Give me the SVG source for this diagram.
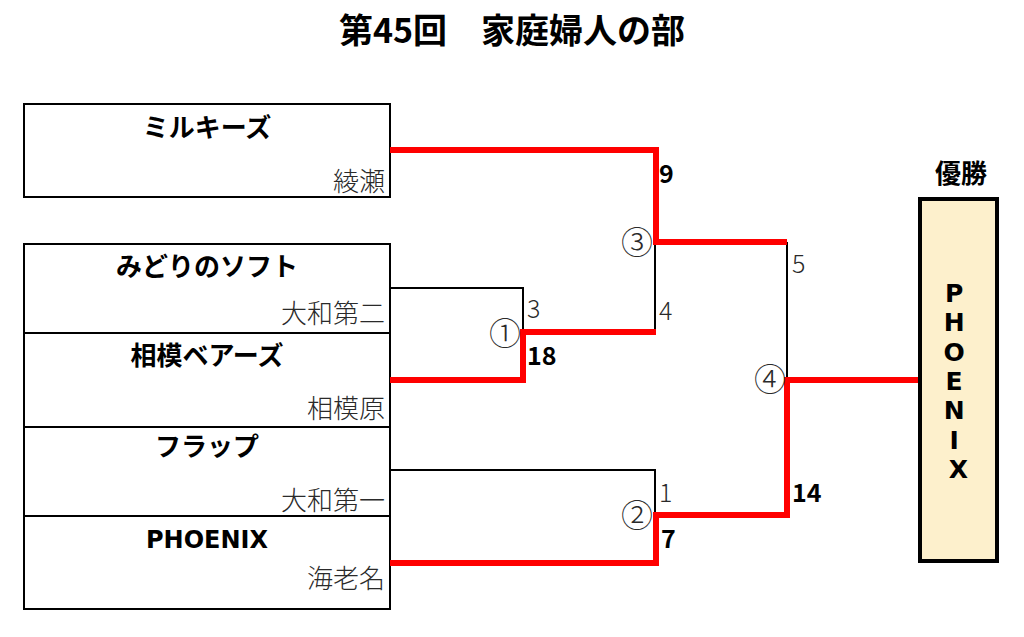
<svg xmlns="http://www.w3.org/2000/svg" width="1024" height="637" viewBox="0 0 1024 637">
<style>
  text { font-family: "Noto Sans CJK JP", "Noto Sans", sans-serif; }
  .title { font-size: 34px; font-weight: bold; fill: #000; text-anchor: middle; }
  .box { fill: #fff; stroke: #000; stroke-width: 2; }
  .div { stroke: #000; stroke-width: 2; fill: none; }
  .name { font-size: 26px; font-weight: bold; fill: #000; text-anchor: middle; }
  .latin { font-family: "DejaVu Sans", sans-serif; font-size: 24px; }
  .school { font-size: 26px; font-weight: 300; fill: #2a2a2a; text-anchor: end; }
  .line { fill: none; stroke: #000; stroke-width: 2; }
  .win { fill: none; stroke: #ff0000; stroke-width: 6; stroke-linejoin: miter; }
  .score { font-size: 25px; font-weight: 300; fill: #2a2a2a; }
  .bold { font-size: 25px; font-weight: bold; fill: #000; }
  .circ { font-size: 32px; font-weight: 300; fill: #2a2a2a; text-anchor: middle; }
  .champ { fill: #fdf0cc; stroke: #000; stroke-width: 4; }
  .vert { font-family: "DejaVu Sans", sans-serif; font-size: 25px; font-weight: bold; fill: #000; text-anchor: middle; }
</style>

<text class="title" x="512" y="43">第45回　家庭婦人の部</text>

<g id="team-milkies">
  <rect class="box" x="24" y="104" width="366" height="93"/>
  <text class="name" x="207" y="137">ミルキーズ</text>
  <text class="school" x="385" y="191">綾瀬</text>
</g>

<g id="team-group">
  <rect class="box" x="24" y="244" width="366" height="365"/>
  <line class="div" x1="24" y1="333" x2="390" y2="333"/>
  <line class="div" x1="24" y1="427" x2="390" y2="427"/>
  <line class="div" x1="24" y1="516" x2="390" y2="516"/>
</g>

<g id="team-midori">
  <text class="name" x="207" y="276">みどりのソフト</text>
  <text class="school" x="385" y="323">大和第二</text>
</g>

<g id="team-sagami">
  <text class="name" x="207" y="365">相模ベアーズ</text>
  <text class="school" x="385" y="418">相模原</text>
</g>

<g id="team-flap">
  <text class="name" x="207" y="456">フラップ</text>
  <text class="school" x="385" y="510">大和第一</text>
</g>

<g id="team-phoenix">
  <text class="name latin" x="207" y="548">PHOENIX</text>
  <text class="school" x="385" y="588">海老名</text>
</g>

<g id="connectors">
  <path class="line" d="M390,288 H523 V332"/>
  <path class="line" d="M655,332 V242"/>
  <path class="line" d="M390,470 H655 V515"/>
  <path class="line" d="M787,242 V380"/>
  <path class="win" d="M390,150 H656 V242 H787"/>
  <path class="win" d="M390,380 H523 V332 H656"/>
  <path class="win" d="M390,563 H656 V515 H787 V380 H920"/>
</g>

<g id="labels">
  <text class="score" x="527" y="318">3</text>
  <text class="circ" x="505" y="345">①</text>
  <text class="bold" x="527" y="365">18</text>
  <text class="bold" x="659" y="183">9</text>
  <text class="circ" x="637" y="254">③</text>
  <text class="score" x="659" y="320">4</text>
  <text class="score" x="792" y="273">5</text>
  <text class="circ" x="770" y="391">④</text>
  <text class="bold" x="792" y="502">14</text>
  <text class="score" x="659" y="502">1</text>
  <text class="circ" x="637" y="527">②</text>
  <text class="bold" x="661" y="548">7</text>
</g>

<g id="champion">
  <text class="name" x="961" y="183">優勝</text>
  <rect class="champ" x="920" y="199" width="77" height="362"/>
  <text class="vert">
    <tspan x="958.5" y="302">P</tspan>
    <tspan x="958.5" y="331">H</tspan>
    <tspan x="958.5" y="361">O</tspan>
    <tspan x="958.5" y="390">E</tspan>
    <tspan x="958.5" y="419">N</tspan>
    <tspan x="958.5" y="449">I</tspan>
    <tspan x="958.5" y="478">X</tspan>
  </text>
</g>
</svg>
